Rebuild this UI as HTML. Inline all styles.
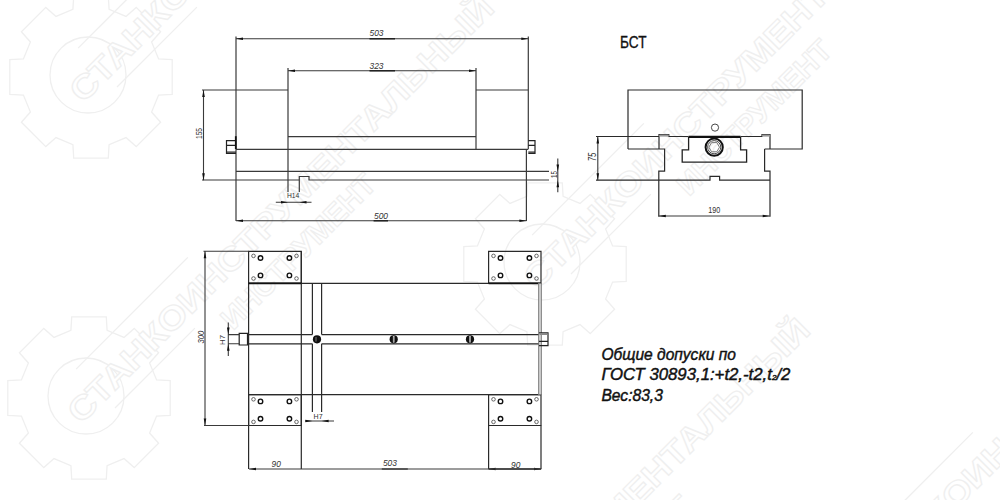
<!DOCTYPE html>
<html><head><meta charset="utf-8">
<style>
html,body{margin:0;padding:0;background:#fff;width:1000px;height:500px;overflow:hidden}
svg{position:absolute;left:0;top:0}
text{font-family:"Liberation Sans",sans-serif}
</style></head><body>
<svg width="1000" height="500" viewBox="0 0 1000 500">
<path d="M158.6 58.9 L172.2 59.7 L172.2 94.3 L158.6 95.1 L151.6 112.0 L160.6 122.2 L136.2 146.6 L126.0 137.6 L109.1 144.6 L108.3 158.2 L73.7 158.2 L72.9 144.6 L56.0 137.6 L45.8 146.6 L21.4 122.2 L30.4 112.0 L23.4 95.1 L9.8 94.3 L9.8 59.7 L23.4 58.9 L30.4 42.0 L21.4 31.8 L45.8 7.4 L56.0 16.4 L72.9 9.4 L73.7 -4.2 L108.3 -4.2 L109.1 9.4 L126.0 16.4 L136.2 7.4 L160.6 31.8 L151.6 42.0Z" fill="none" stroke="#efefef" stroke-width="1.3"/>
<circle cx="88" cy="75" r="38" fill="none" stroke="#efefef" stroke-width="1.3"/>
<g transform="translate(88 75) rotate(-45)">
<text x="-24" y="17" font-size="33" font-weight="bold" fill="#fff" stroke="#efefef" stroke-width="1.3" textLength="587" lengthAdjust="spacingAndGlyphs">СТАНКОИНСТРУМЕНТАЛЬНЫЙ</text>
<path d="M12 -26H170 M12 29H125" fill="none" stroke="#efefef" stroke-width="1.3"/>
</g>
<path d="M156.6 379.9 L170.2 380.7 L170.2 415.3 L156.6 416.1 L149.6 433.0 L158.6 443.2 L134.2 467.6 L124.0 458.6 L107.1 465.6 L106.3 479.2 L71.7 479.2 L70.9 465.6 L54.0 458.6 L43.8 467.6 L19.4 443.2 L28.4 433.0 L21.4 416.1 L7.8 415.3 L7.8 380.7 L21.4 379.9 L28.4 363.0 L19.4 352.8 L43.8 328.4 L54.0 337.4 L70.9 330.4 L71.7 316.8 L106.3 316.8 L107.1 330.4 L124.0 337.4 L134.2 328.4 L158.6 352.8 L149.6 363.0Z" fill="none" stroke="#efefef" stroke-width="1.3"/>
<circle cx="86" cy="396" r="38" fill="none" stroke="#efefef" stroke-width="1.3"/>
<g transform="translate(86 396) rotate(-45)">
<text x="-24" y="17" font-size="33" font-weight="bold" fill="#fff" stroke="#efefef" stroke-width="1.3" textLength="587" lengthAdjust="spacingAndGlyphs">СТАНКОИНСТРУМЕНТАЛЬНЫЙ</text>
<path d="M12 -26H170 M12 29H125" fill="none" stroke="#efefef" stroke-width="1.3"/>
<text x="150" y="58" font-size="30" font-weight="bold" fill="#fff" stroke="#efefef" stroke-width="1.3" textLength="205" lengthAdjust="spacingAndGlyphs">ИНСТРУМЕНТ</text>
</g>
<path d="M612.6 245.9 L626.2 246.7 L626.2 281.3 L612.6 282.1 L605.6 299.0 L614.6 309.2 L590.2 333.6 L580.0 324.6 L563.1 331.6 L562.3 345.2 L527.7 345.2 L526.9 331.6 L510.0 324.6 L499.8 333.6 L475.4 309.2 L484.4 299.0 L477.4 282.1 L463.8 281.3 L463.8 246.7 L477.4 245.9 L484.4 229.0 L475.4 218.8 L499.8 194.4 L510.0 203.4 L526.9 196.4 L527.7 182.8 L562.3 182.8 L563.1 196.4 L580.0 203.4 L590.2 194.4 L614.6 218.8 L605.6 229.0Z" fill="none" stroke="#efefef" stroke-width="1.3"/>
<circle cx="542" cy="262" r="38" fill="none" stroke="#efefef" stroke-width="1.3"/>
<g transform="translate(542 262) rotate(-45)">
<text x="-24" y="17" font-size="33" font-weight="bold" fill="#fff" stroke="#efefef" stroke-width="1.3" textLength="587" lengthAdjust="spacingAndGlyphs">СТАНКОИНСТРУМЕНТАЛЬНЫЙ</text>
<path d="M12 -26H170 M12 29H125" fill="none" stroke="#efefef" stroke-width="1.3"/>
<text x="150" y="58" font-size="30" font-weight="bold" fill="#fff" stroke="#efefef" stroke-width="1.3" textLength="205" lengthAdjust="spacingAndGlyphs">ИНСТРУМЕНТ</text>
</g>
<g transform="translate(402 718) rotate(-45)">
<text x="-24" y="17" font-size="33" font-weight="bold" fill="#fff" stroke="#efefef" stroke-width="1.3" textLength="587" lengthAdjust="spacingAndGlyphs">СТАНКОИНСТРУМЕНТАЛЬНЫЙ</text>
<path d="M12 -26H170 M12 29H125" fill="none" stroke="#efefef" stroke-width="1.3"/>
<text x="150" y="58" font-size="30" font-weight="bold" fill="#fff" stroke="#efefef" stroke-width="1.3" textLength="205" lengthAdjust="spacingAndGlyphs">ИНСТРУМЕНТ</text>
</g>
<g transform="translate(871 571) rotate(-45)">
<text x="-24" y="17" font-size="33" font-weight="bold" fill="#fff" stroke="#efefef" stroke-width="1.3" textLength="587" lengthAdjust="spacingAndGlyphs">СТАНКОИНСТРУМЕНТАЛЬНЫЙ</text>
<path d="M12 -26H170 M12 29H125" fill="none" stroke="#efefef" stroke-width="1.3"/>
</g>
<path d="M236 36.6V221 M528.3 36.6V149 M288 68V192 M476 68V149 M202 90H288 M476 90H528.3 M288 136.6H476 M236 149.4H528.3 M236 171.4H549 M202 180H299.3V176.5H309V180H549 M299.3 176.5V192 M526.4 149.2V221" stroke="#3a3a3a" stroke-width="1.2" fill="none"/>
<path d="M236 38.7H528.3 M288 70.7H476 M203.5 90V180.2 M236 220.8H526.4 M557.8 158.6V192.2 M275.8 202.3H311.5" stroke="#3a3a3a" stroke-width="1.1" fill="none"/>
<path d="M369.5 38.7H395 M369.5 70.7H395 M373.6 220.8H388" stroke="#222" stroke-width="1.4" fill="none"/>
<path d="M236.00 38.70L243.00 37.40L243.00 40.00Z" fill="#111"/>
<path d="M528.30 38.70L521.30 40.00L521.30 37.40Z" fill="#111"/>
<path d="M288.00 70.70L295.00 69.40L295.00 72.00Z" fill="#111"/>
<path d="M476.00 70.70L469.00 72.00L469.00 69.40Z" fill="#111"/>
<path d="M203.50 90.00L204.80 97.00L202.20 97.00Z" fill="#111"/>
<path d="M203.50 180.20L202.20 173.20L204.80 173.20Z" fill="#111"/>
<path d="M236.00 220.80L243.00 219.50L243.00 222.10Z" fill="#111"/>
<path d="M526.40 220.80L519.40 222.10L519.40 219.50Z" fill="#111"/>
<path d="M557.80 171.40L556.50 164.40L559.10 164.40Z" fill="#111"/>
<path d="M557.80 180.20L559.10 187.20L556.50 187.20Z" fill="#111"/>
<path d="M288.00 202.30L281.00 203.60L281.00 201.00Z" fill="#111"/>
<path d="M299.50 202.30L306.50 201.00L306.50 203.60Z" fill="#111"/>
<path d="M236 140.7H226.5V153.3H236 M226.5 145.3H236 M226.5 152H236" stroke="#222" stroke-width="1.2" fill="none"/>
<path d="M528.3 140.7H535V153.3H528.3 M535 145.3H528.3 M535 152H528.3" stroke="#222" stroke-width="1.2" fill="none"/>
<path d="M235.8 136.2V149" stroke="#111" stroke-width="1.8" fill="none"/>
<text x="369.5" y="35.8" font-size="9.5" text-anchor="start" style="font-style:italic;" fill="#333" textLength="14" lengthAdjust="spacingAndGlyphs">503</text>
<text x="369.5" y="68.5" font-size="9.5" text-anchor="start" style="font-style:italic;" fill="#333" textLength="14" lengthAdjust="spacingAndGlyphs">323</text>
<text x="374" y="219.3" font-size="9.5" text-anchor="start" style="font-style:italic;" fill="#333" textLength="14" lengthAdjust="spacingAndGlyphs">500</text>
<text x="202.3" y="139" font-size="8.5" text-anchor="start" style="" fill="#333" transform="rotate(-90 202.3 139)" textLength="11" lengthAdjust="spacingAndGlyphs">155</text>
<text x="556.5" y="178" font-size="8.5" text-anchor="start" style="" fill="#333" transform="rotate(-90 556.5 178)" textLength="7" lengthAdjust="spacingAndGlyphs">15</text>
<text x="287" y="198.3" font-size="7" text-anchor="start" style="" fill="#333" textLength="12.3" lengthAdjust="spacingAndGlyphs">H14</text>
<path d="M628 149V90H802.2V149H764.6 M596 136.5H659V134.5H668.8V136.5H688.6 M740.6 136.5H762V134.5H770V149 M628 149H664.6V171.2H658.8V216.8 M764.6 149V171.2H770V216.8 M596 180.2H710V176.3H719.6V180.2H770 M659 134.5V149" stroke="#2a2a2a" stroke-width="1.2" fill="none"/>
<path d="M688.6 137V149.8H682.2V162.2H746.6V149.8H740.6V137" stroke="#222" stroke-width="1.3" fill="none"/>
<path d="M688.6 136.8H740.6" stroke="#111" stroke-width="2.2" fill="none"/>
<circle cx="715" cy="127.6" r="3.6" stroke="#333" stroke-width="0.9" fill="none"/>
<circle cx="714.2" cy="147.2" r="8.6" stroke="#111" stroke-width="2.0" fill="none"/>
<circle cx="714.2" cy="147.2" r="6.6" stroke="#333" stroke-width="0.9" fill="none"/>
<rect x="659.5" y="134.6" width="9.2" height="2" fill="#999"/><rect x="762.2" y="134.6" width="7.6" height="2" fill="#999"/>
<polygon points="719.50,147.20 716.85,151.79 711.55,151.79 708.90,147.20 711.55,142.61 716.85,142.61" fill="none" stroke="#555" stroke-width="0.8"/>
<path d="M597.8 136.5V180.2 M658.8 216H769.7" stroke="#3a3a3a" stroke-width="1.1" fill="none"/>
<path d="M597.80 136.50L599.10 143.50L596.50 143.50Z" fill="#111"/>
<path d="M597.80 180.20L596.50 173.20L599.10 173.20Z" fill="#111"/>
<path d="M658.80 216.00L665.80 214.70L665.80 217.30Z" fill="#111"/>
<path d="M769.70 216.00L762.70 217.30L762.70 214.70Z" fill="#111"/>
<text x="596.5" y="161.3" font-size="10" text-anchor="start" style="font-style:italic;" fill="#333" transform="rotate(-90 596.5 161.3)" textLength="8.6" lengthAdjust="spacingAndGlyphs">75</text>
<text x="708.2" y="213.2" font-size="8.6" text-anchor="start" style="" fill="#333" textLength="12" lengthAdjust="spacingAndGlyphs">190</text>
<g stroke="#111" stroke-width="0.35">
<text x="620" y="48.2" font-size="16.8" text-anchor="start" style="" fill="#111" textLength="26.5" lengthAdjust="spacingAndGlyphs">БСТ</text>
</g>
<path d="M248.6 251.3H301.3V283.3H248.6Z" stroke="#2a2a2a" stroke-width="1.2" fill="none"/>
<circle cx="260.5" cy="258.0" r="2.25" stroke="#111" stroke-width="1.4" fill="none"/>
<circle cx="260.5" cy="275.40000000000003" r="2.25" stroke="#111" stroke-width="1.4" fill="none"/>
<circle cx="289.4" cy="258.0" r="2.25" stroke="#111" stroke-width="1.4" fill="none"/>
<circle cx="289.4" cy="275.40000000000003" r="2.25" stroke="#111" stroke-width="1.4" fill="none"/>
<circle cx="253.5" cy="255.9" r="1.8" stroke="#444" stroke-width="0.8" fill="none"/>
<circle cx="253.5" cy="278.5" r="1.8" stroke="#444" stroke-width="0.8" fill="none"/>
<circle cx="296.5" cy="255.9" r="1.8" stroke="#444" stroke-width="0.8" fill="none"/>
<circle cx="296.5" cy="278.5" r="1.8" stroke="#444" stroke-width="0.8" fill="none"/>
<path d="M488.6 251.3H541.0V283.3H488.6Z" stroke="#2a2a2a" stroke-width="1.2" fill="none"/>
<circle cx="500.5" cy="258.0" r="2.25" stroke="#111" stroke-width="1.4" fill="none"/>
<circle cx="500.5" cy="275.40000000000003" r="2.25" stroke="#111" stroke-width="1.4" fill="none"/>
<circle cx="529.4" cy="258.0" r="2.25" stroke="#111" stroke-width="1.4" fill="none"/>
<circle cx="529.4" cy="275.40000000000003" r="2.25" stroke="#111" stroke-width="1.4" fill="none"/>
<circle cx="493.5" cy="255.9" r="1.8" stroke="#444" stroke-width="0.8" fill="none"/>
<circle cx="493.5" cy="278.5" r="1.8" stroke="#444" stroke-width="0.8" fill="none"/>
<circle cx="536.5" cy="255.9" r="1.8" stroke="#444" stroke-width="0.8" fill="none"/>
<circle cx="536.5" cy="278.5" r="1.8" stroke="#444" stroke-width="0.8" fill="none"/>
<path d="M248.6 394.7H301.3V425.5H248.6Z" stroke="#2a2a2a" stroke-width="1.2" fill="none"/>
<circle cx="260.5" cy="401.4" r="2.25" stroke="#111" stroke-width="1.4" fill="none"/>
<circle cx="260.5" cy="418.8" r="2.25" stroke="#111" stroke-width="1.4" fill="none"/>
<circle cx="289.4" cy="401.4" r="2.25" stroke="#111" stroke-width="1.4" fill="none"/>
<circle cx="289.4" cy="418.8" r="2.25" stroke="#111" stroke-width="1.4" fill="none"/>
<circle cx="253.5" cy="399.3" r="1.8" stroke="#444" stroke-width="0.8" fill="none"/>
<circle cx="253.5" cy="421.9" r="1.8" stroke="#444" stroke-width="0.8" fill="none"/>
<circle cx="296.5" cy="399.3" r="1.8" stroke="#444" stroke-width="0.8" fill="none"/>
<circle cx="296.5" cy="421.9" r="1.8" stroke="#444" stroke-width="0.8" fill="none"/>
<path d="M488.6 394.7H541.0V425.5H488.6Z" stroke="#2a2a2a" stroke-width="1.2" fill="none"/>
<circle cx="500.5" cy="401.4" r="2.25" stroke="#111" stroke-width="1.4" fill="none"/>
<circle cx="500.5" cy="418.8" r="2.25" stroke="#111" stroke-width="1.4" fill="none"/>
<circle cx="529.4" cy="401.4" r="2.25" stroke="#111" stroke-width="1.4" fill="none"/>
<circle cx="529.4" cy="418.8" r="2.25" stroke="#111" stroke-width="1.4" fill="none"/>
<circle cx="493.5" cy="399.3" r="1.8" stroke="#444" stroke-width="0.8" fill="none"/>
<circle cx="493.5" cy="421.9" r="1.8" stroke="#444" stroke-width="0.8" fill="none"/>
<circle cx="536.5" cy="399.3" r="1.8" stroke="#444" stroke-width="0.8" fill="none"/>
<circle cx="536.5" cy="421.9" r="1.8" stroke="#444" stroke-width="0.8" fill="none"/>
<path d="M248.6 283.3H541 M248.6 283.3V469 M301.3 251.3V469 M248.6 394.7H541 M488.6 425.5V469 M541 425.5V469" stroke="#2a2a2a" stroke-width="1.2" fill="none"/>
<path d="M248.6 283.3H301.3 M488.6 283.3H541" stroke="#111" stroke-width="1.8" fill="none"/>
<rect x="538.6" y="283.3" width="2.8" height="111.4" fill="#c8c8c8" stroke="#777" stroke-width="0.8"/>
<path d="M312.4 283.3V334.6 M321.6 283.3V334.6 M312.4 343.8V412 M321.6 343.8V412 M248.6 334.6H312.4 M321.6 334.6H538.4 M248.6 343.8H312.4 M321.6 343.8H538.4" stroke="#2a2a2a" stroke-width="1.2" fill="none"/>
<path d="M248.6 333.3H239.2V345H248.6 M247.5 333.3V345" stroke="#222" stroke-width="1.2" fill="none"/>
<path d="M539 332.8H548V345.6H539 M539 341.4H548" stroke="#222" stroke-width="1.2" fill="none"/>
<rect x="539.5" y="333" width="8" height="2" fill="#888"/>
<circle cx="317" cy="339.3" r="4.1" stroke="none" stroke-width="0" fill="#111"/>
<path d="M316 337V341.6" stroke="#999" stroke-width="0.8" fill="none"/>
<circle cx="393.7" cy="339.3" r="4.1" stroke="none" stroke-width="0" fill="#111"/>
<path d="M393.7 336V342.6" stroke="#ddd" stroke-width="1.6" fill="none"/>
<path d="M393.7 336.5V342.1" stroke="#555" stroke-width="0.5" fill="none"/>
<circle cx="470" cy="339.3" r="4.1" stroke="none" stroke-width="0" fill="#111"/>
<path d="M470 336V342.6" stroke="#ddd" stroke-width="1.6" fill="none"/>
<path d="M470 336.5V342.1" stroke="#555" stroke-width="0.5" fill="none"/>
<path d="M203.5 251.3H248.6 M204 425.5H248.6 M205 251.3V425.5 M228.3 322.5V356 M228.3 334.6H239.2 M228.3 343.8H239.2 M305 421H334 M249 469H541.3" stroke="#3a3a3a" stroke-width="1.1" fill="none"/>
<path d="M205.00 251.30L206.30 258.30L203.70 258.30Z" fill="#111"/>
<path d="M205.00 425.50L203.70 418.50L206.30 418.50Z" fill="#111"/>
<path d="M228.30 334.60L227.00 327.60L229.60 327.60Z" fill="#111"/>
<path d="M228.30 343.80L229.60 350.80L227.00 350.80Z" fill="#111"/>
<path d="M312.40 421.00L305.40 422.30L305.40 419.70Z" fill="#111"/>
<path d="M321.60 421.00L328.60 419.70L328.60 422.30Z" fill="#111"/>
<path d="M249.00 469.00L256.00 467.70L256.00 470.30Z" fill="#111"/>
<path d="M488.60 469.00L495.60 467.70L495.60 470.30Z" fill="#111"/>
<path d="M541.00 469.00L534.00 470.30L534.00 467.70Z" fill="#111"/>
<path d="M381.8 469H407.8" stroke="#333" stroke-width="1.3" fill="none"/>
<path d="M488.6 469H541" stroke="#333" stroke-width="1.3" fill="none"/>
<text x="204.3" y="343.6" font-size="9" text-anchor="start" style="font-style:italic;" fill="#333" transform="rotate(-90 204.3 343.6)" textLength="12.8" lengthAdjust="spacingAndGlyphs">300</text>
<text x="224.5" y="345" font-size="7.5" text-anchor="start" style="" fill="#333" transform="rotate(-90 224.5 345)" textLength="10" lengthAdjust="spacingAndGlyphs">H7</text>
<text x="313.6" y="418.5" font-size="7.5" text-anchor="start" style="" fill="#333" textLength="9" lengthAdjust="spacingAndGlyphs">H7</text>
<text x="271.5" y="466.8" font-size="9.5" text-anchor="start" style="font-style:italic;" fill="#333" textLength="9.3" lengthAdjust="spacingAndGlyphs">90</text>
<text x="382.9" y="466.4" font-size="9.5" text-anchor="start" style="font-style:italic;" fill="#333" textLength="14" lengthAdjust="spacingAndGlyphs">503</text>
<text x="511" y="468" font-size="9.5" text-anchor="start" style="font-style:italic;" fill="#333" textLength="9.3" lengthAdjust="spacingAndGlyphs">90</text>
<g stroke="#111" stroke-width="0.45">
<text x="601.4" y="359.6" font-size="16.5" text-anchor="start" style="font-style:italic;" fill="#111" textLength="134.5" lengthAdjust="spacingAndGlyphs">Общие допуски по</text>
<text x="601.4" y="379.6" font-size="16.5" text-anchor="start" style="font-style:italic;" fill="#111" textLength="189" lengthAdjust="spacingAndGlyphs">ГОСТ 30893,1:+t2,-t2,t<tspan font-size='8'>2</tspan>/2</text>
<text x="601.4" y="400.6" font-size="16.5" text-anchor="start" style="font-style:italic;" fill="#111" textLength="61.5" lengthAdjust="spacingAndGlyphs">Вес:83,3</text>
</g>
</svg>
</body></html>
